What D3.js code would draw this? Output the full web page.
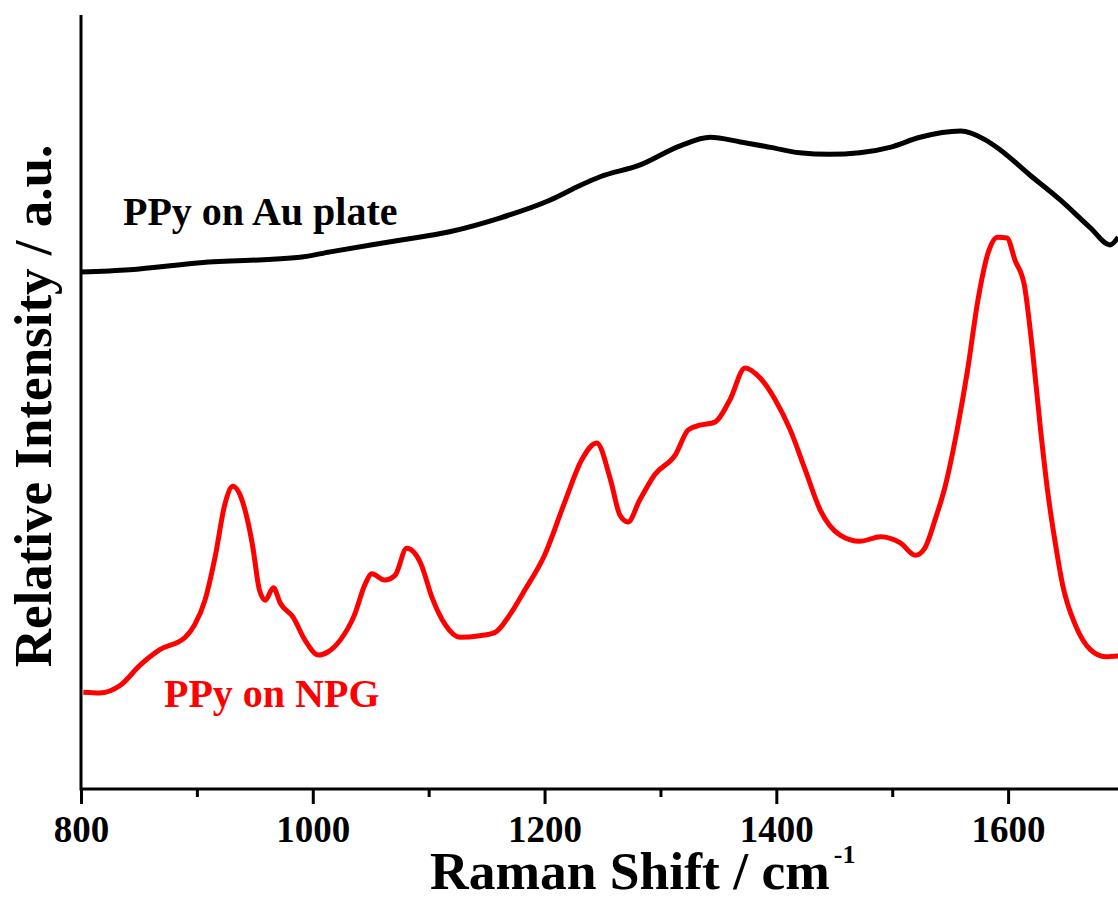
<!DOCTYPE html>
<html>
<head>
<meta charset="utf-8">
<script src="https://cdn.jsdelivr.net/npm/d3@7"></script>
<style>
  body { margin: 0; background: #fff; }
  text { font-family: "Liberation Serif", "Times New Roman", serif; font-weight: bold; }
</style>
</head>
<body>
<script>
// Raman spectra, values (a.u.)

// PPy on Au plate
var auShift = [800, 842, 903, 989, 1015, 1075, 1118, 1162, 1205, 1231, 1248, 1282, 1317, 1343,
               1369, 1395, 1420, 1446, 1472, 1498, 1524, 1559, 1580, 1593, 1619, 1645, 1671, 1688, 1695];
var auInt   = [66.8, 67.1, 68.0, 68.7, 69.4, 70.9, 72.0, 73.8, 76.1, 78.0, 79.1, 80.6, 83.1, 84.2,
               83.6, 82.9, 82.2, 82.0, 82.2, 82.9, 84.2, 85.0, 83.9, 82.6, 79.3, 76.1, 72.5, 70.3, 71.3];

// PPy on NPG
var npgShift = [802, 816, 834, 851, 868, 890, 898, 907, 916, 924, 931, 939, 948, 954, 959, 966, 972,
                983, 993, 1005, 1013, 1024, 1036, 1045, 1051, 1062, 1071, 1081, 1093, 1103, 1114, 1127,
                1144, 1157, 1170, 1183, 1200, 1218, 1232, 1245, 1257, 1265, 1272, 1282, 1295, 1313, 1324,
                1334, 1347, 1360, 1373, 1386, 1399, 1412, 1425, 1438, 1455, 1472, 1490, 1507, 1520, 1528,
                1537, 1546, 1556, 1565, 1574, 1583, 1591, 1599, 1606, 1614, 1621, 1628, 1634, 1641, 1647,
                1658, 1671, 1684, 1695];
var npgInt   = [12.5, 12.4, 13.4, 16.0, 18.0, 19.6, 21.2, 24.4, 30.2, 36.7, 39.1, 37.3, 31.5, 25.7, 24.4, 26.0, 24.0,
                22.2, 19.3, 17.3, 17.7, 19.3, 22.5, 26.4, 27.8, 27.0, 27.6, 31.1, 29.2, 24.7, 21.3, 19.6,
                19.8, 20.2, 22.5, 25.7, 30.2, 37.3, 42.5, 44.7, 39.9, 35.4, 34.5, 37.3, 40.6, 43.2, 46.4,
                47.0, 47.4, 50.3, 54.4, 53.1, 50.3, 46.4, 41.2, 36.0, 32.8, 32.0, 32.6, 31.8, 30.2, 31.1,
                34.8, 39.3, 46.4, 54.1, 63.2, 69.4, 71.3, 71.2, 68.3, 65.1, 56.7, 46.4, 38.6, 31.5, 26.4,
                21.2, 18.0, 17.1, 17.2];

var majorTicks = [800, 1000, 1200, 1400, 1600];
var minorTicks = [900, 1100, 1300, 1500, 1700];

var width = 1118,
    height = 899;

var svg = d3.select("body")
    .append("svg")
    .attr("width", width)
    .attr("height", height);

var x = d3.scaleLinear()
    .domain([800, 1700])
    .range([81, 1124]);

var y = d3.scaleLinear()
    .domain([0, 100])
    .range([789, 15]);

var line = d3.line()
    .x(function(d){ return x(d[0]); })
    .y(function(d){ return y(d[1]); })
    .curve(d3.curveMonotoneX);

//curves
svg.append("path")
    .datum(d3.zip(auShift, auInt))
    .attr("d", line)
    .attr("fill", "none")
    .attr("stroke", "#000")
    .attr("stroke-width", 5)
    .attr("stroke-linejoin", "round");

svg.append("path")
    .datum(d3.zip(npgShift, npgInt))
    .attr("d", line)
    .attr("fill", "none")
    .attr("stroke", "#ff0000")
    .attr("stroke-width", 5)
    .attr("stroke-linejoin", "round");

//x axis: major ticks with labels, then minor ticks
var xAxis = svg.append("g")
    .attr("transform", "translate(0,789)")
    .call(d3.axisBottom(x).tickValues(majorTicks).tickSize(15).tickPadding(12).tickFormat(d3.format("d")));

svg.append("g")
    .attr("transform", "translate(0,789)")
    .call(d3.axisBottom(x).tickValues(minorTicks).tickSize(8).tickFormat(""))
    .select(".domain").remove();

xAxis.select(".domain").attr("stroke-width", 3).attr("d", "M81,0H1124");
svg.selectAll(".tick line").attr("stroke-width", 3);
xAxis.selectAll(".tick text")
    .attr("font-size", 37)
    .attr("font-family", "Liberation Serif, serif")
    .attr("font-weight", "bold")
    .attr("fill", "#000");

//y axis: plain line, no ticks
svg.append("line")
    .attr("x1", x(800)).attr("x2", x(800))
    .attr("y1", y(100)).attr("y2", y(0) + 1.5)
    .attr("stroke", "#000")
    .attr("stroke-width", 3);

//axis titles
var xTitle = svg.append("text")
    .attr("x", 430)
    .attr("y", 889)
    .attr("font-size", 53.5);
xTitle.append("tspan").text("Raman Shift / cm");
xTitle.append("tspan")
    .attr("font-size", 26)
    .attr("dx", 4)
    .attr("dy", -26)
    .text("-1");

svg.append("text")
    .attr("transform", "translate(51,406) rotate(-90)")
    .attr("text-anchor", "middle")
    .attr("font-size", 53)
    .text("Relative Intensity / a.u.");

//curve labels
svg.append("text")
    .attr("x", 123)
    .attr("y", 225)
    .attr("font-size", 40)
    .attr("fill", "#000")
    .text("PPy on Au plate");

svg.append("text")
    .attr("x", 164)
    .attr("y", 707)
    .attr("font-size", 40)
    .attr("fill", "#ff0000")
    .text("PPy on NPG");
</script>
</body>
</html>
